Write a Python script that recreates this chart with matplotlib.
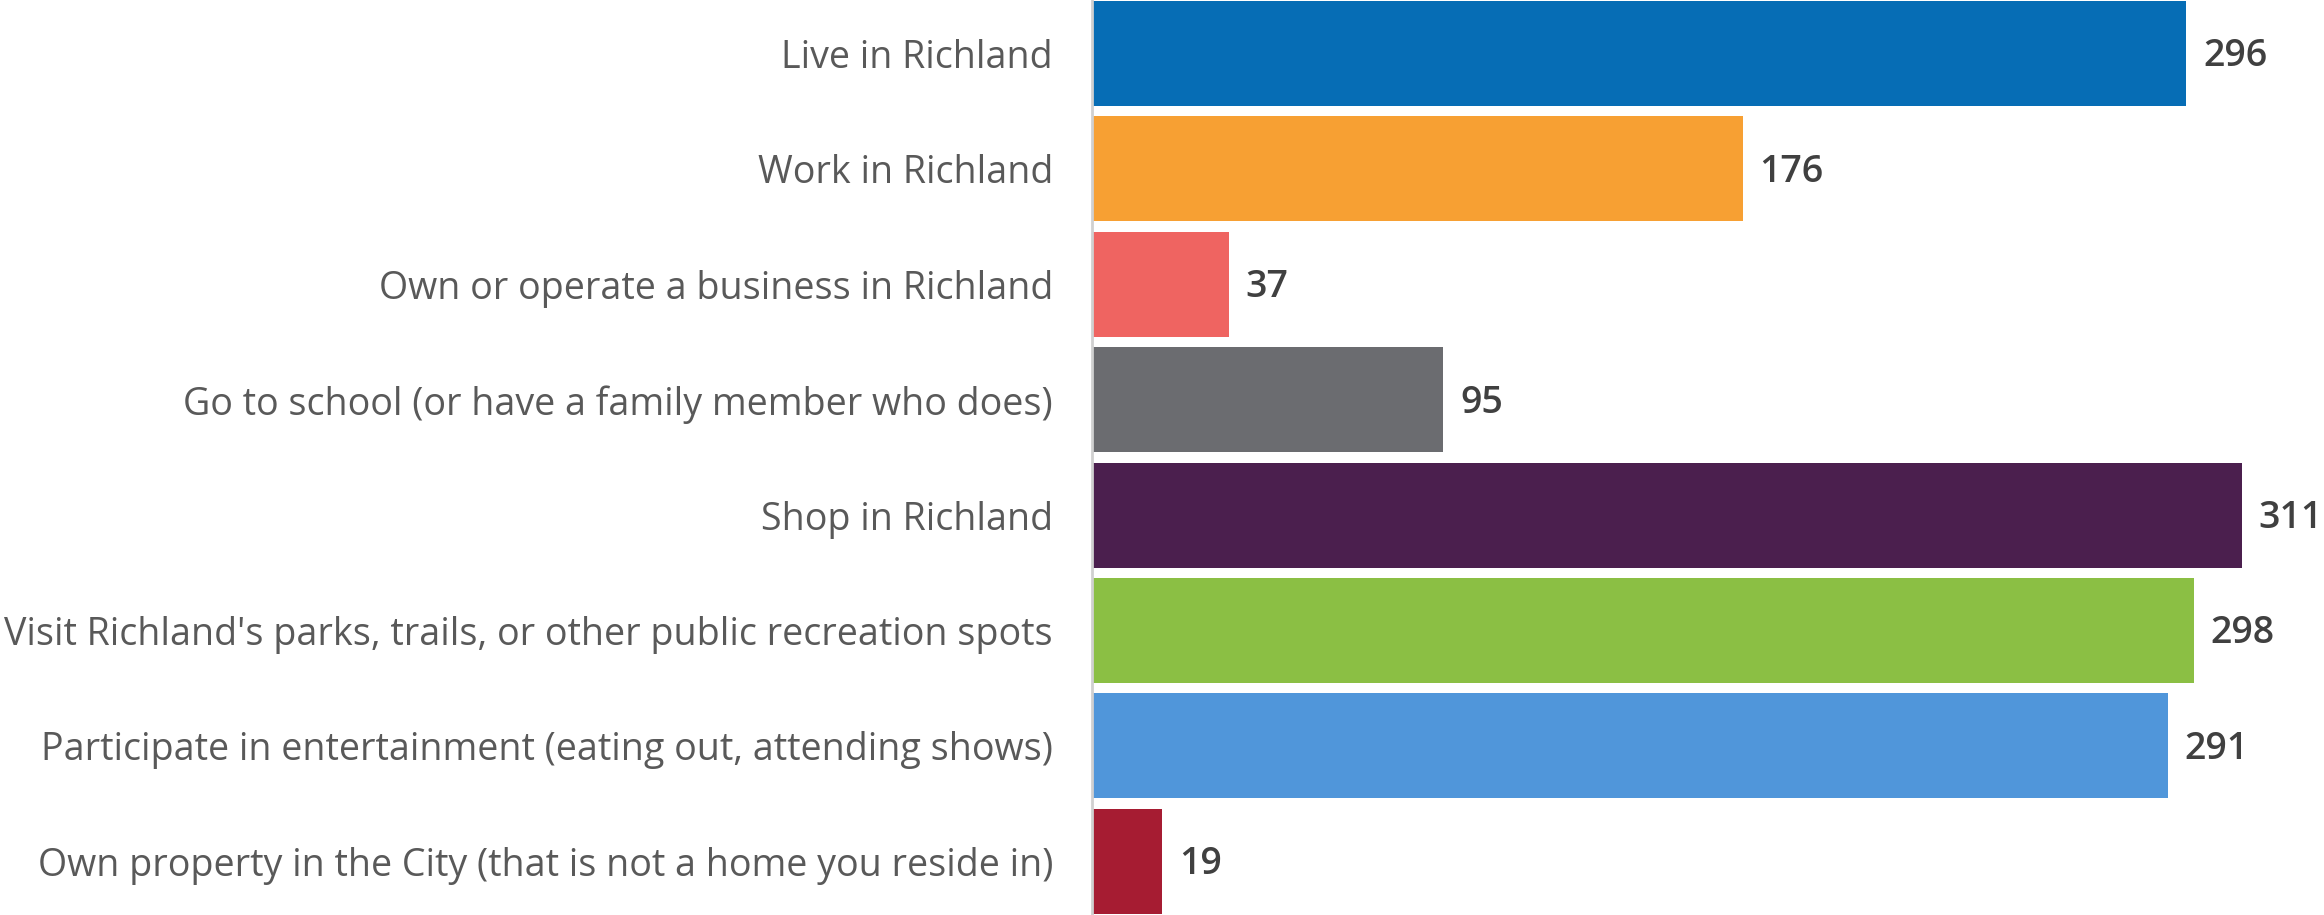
import matplotlib
matplotlib.use('Agg')
import matplotlib.pyplot as plt

categories = ['Live in Richland',
              'Work in Richland',
              'Own or operate a business in Richland',
              'Go to school (or have a family member who does)',
              'Shop in Richland',
              "Visit Richland's parks, trails, or other public recreation spots",
              'Participate in entertainment (eating out, attending shows)',
              'Own property in the City (that is not a home you reside in)']
values = [296, 176, 37, 95, 311, 298, 291, 19]
colors = ['#066DB5', '#F7A033', '#EF6461', '#6B6C70',
          '#4B1F4E', '#8BBF44', '#5096DA', '#A61C32']

plt.rcParams['font.family'] = ['Open Sans', 'DejaVu Sans']

fig = plt.figure(figsize=(23.24, 9.15), dpi=100)
ax = fig.add_axes([1092/2324, 0, 1 - 1092/2324, 1])

y = list(range(len(values)))
ax.barh(y, values, height=0.91, color=colors)
ax.set_ylim(7.465, -0.464)
ax.set_xlim(0, 333.2)

for i, v in enumerate(values):
    ax.annotate(str(v), (v, i), xytext=(12, -2), textcoords='offset points',
                va='center', ha='left', fontsize=27, fontweight='semibold',
                color='#404040')

ax.set_yticks(y)
ax.set_yticklabels(categories, fontsize=27.1, color='#595959')
ax.tick_params(axis='y', length=0, pad=28)
ax.set_xticks([])
for s in ['top', 'right', 'bottom']:
    ax.spines[s].set_visible(False)
ax.spines['left'].set_color('#D0D0D0')
ax.spines['left'].set_linewidth(2)

fig.savefig('out.png', dpi=100)
